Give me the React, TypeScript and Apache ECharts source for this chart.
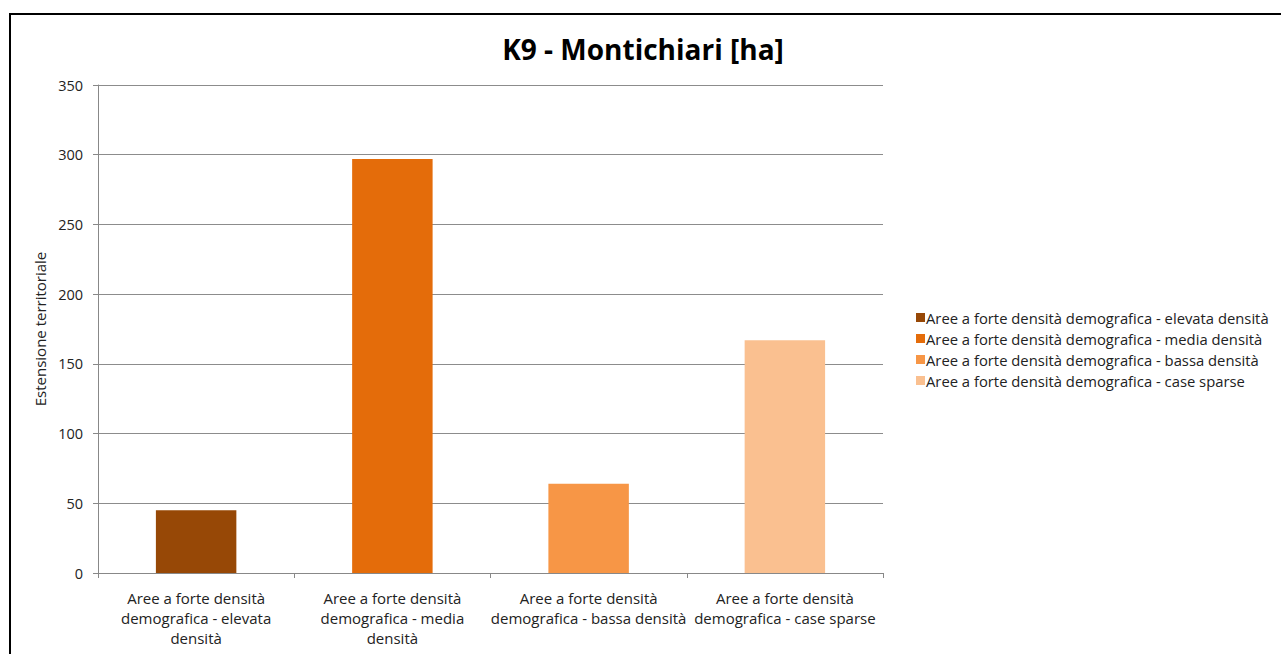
import React, { useEffect, useRef } from "react";
import * as echarts from "echarts";

const titleText = "K9 - Montichiari [ha]";
const yAxisName = "Estensione territoriale";

const categories = [
  "Aree a forte densità\ndemografica - elevata\ndensità",
  "Aree a forte densità\ndemografica - media\ndensità",
  "Aree a forte densità\ndemografica - bassa densità",
  "Aree a forte densità\ndemografica - case sparse",
];

const seriesNames = [
  "Aree a forte densità demografica - elevata densità",
  "Aree a forte densità demografica - media densità",
  "Aree a forte densità demografica - bassa densità",
  "Aree a forte densità demografica - case sparse",
];

const seriesValues = [45, 297, 64, 167];

const seriesColors = ["#974806", "#E46C0A", "#F79646", "#FAC090"];

const FONT = "'Open Sans', 'Noto Sans', sans-serif";

export default function App() {
  const ref = useRef<HTMLDivElement>(null);

  useEffect(() => {
    document.body.style.margin = "0";
    if (!ref.current) return;
    const chart = echarts.init(ref.current, undefined, { renderer: "svg" });

    // Each series holds one value at its own category; stacking keeps the bar centred.
    const series = seriesNames.map((name, i) => ({
      name,
      type: "bar" as const,
      stack: "total",
      barWidth: "41%",
      itemStyle: { color: seriesColors[i] },
      data: categories.map((_, j) => (j === i ? seriesValues[i] : "-")),
    }));

    chart.setOption({
      animation: false,
      backgroundColor: "#ffffff",
      textStyle: { fontFamily: FONT },
      title: {
        text: titleText,
        left: 638,
        top: 30,
        textAlign: "center",
        textStyle: { fontFamily: FONT, fontSize: 28, fontWeight: "bold", color: "#000" },
      },
      graphic: [
        {
          type: "polyline",
          shape: { points: [[10, 654], [10, 14], [1281, 14]] },
          style: { fill: "none", stroke: "#000", lineWidth: 2 },
          silent: true,
        },
      ],
      legend: {
        orient: "vertical",
        left: 911,
        top: 305,
        icon: "rect",
        itemWidth: 9,
        itemHeight: 9,
        itemGap: 6,
        textStyle: { fontFamily: FONT, fontSize: 14.8, color: "#222", lineHeight: 14, padding: [0, 0, 0, -4] },
        data: seriesNames,
      },
      grid: { left: 98, right: 398, top: 85, bottom: 81 },
      xAxis: {
        type: "category",
        data: categories,
        axisLine: { lineStyle: { color: "#888", width: 1 } },
        axisTick: { show: true, length: 5, lineStyle: { color: "#888" } },
        axisLabel: {
          interval: 0,
          margin: 15,
          fontSize: 15,
          lineHeight: 20,
          color: "#222",
          fontFamily: FONT,
        },
      },
      yAxis: {
        type: "value",
        min: 0,
        max: 350,
        interval: 50,
        name: yAxisName,
        nameLocation: "middle",
        nameRotate: 90,
        nameGap: 41,
        nameTextStyle: { fontSize: 15, color: "#222", fontFamily: FONT },
        axisLine: { show: true, lineStyle: { color: "#888", width: 1 } },
        axisTick: { show: true, length: 5, lineStyle: { color: "#888" } },
        axisLabel: { fontSize: 14.5, color: "#222", margin: 15, fontFamily: FONT },
        splitLine: { lineStyle: { color: "#8c8c8c", width: 1 } },
      },
      series,
    });

    return () => chart.dispose();
  }, []);

  return <div ref={ref} style={{ width: 1281, height: 654 }} />;
}
